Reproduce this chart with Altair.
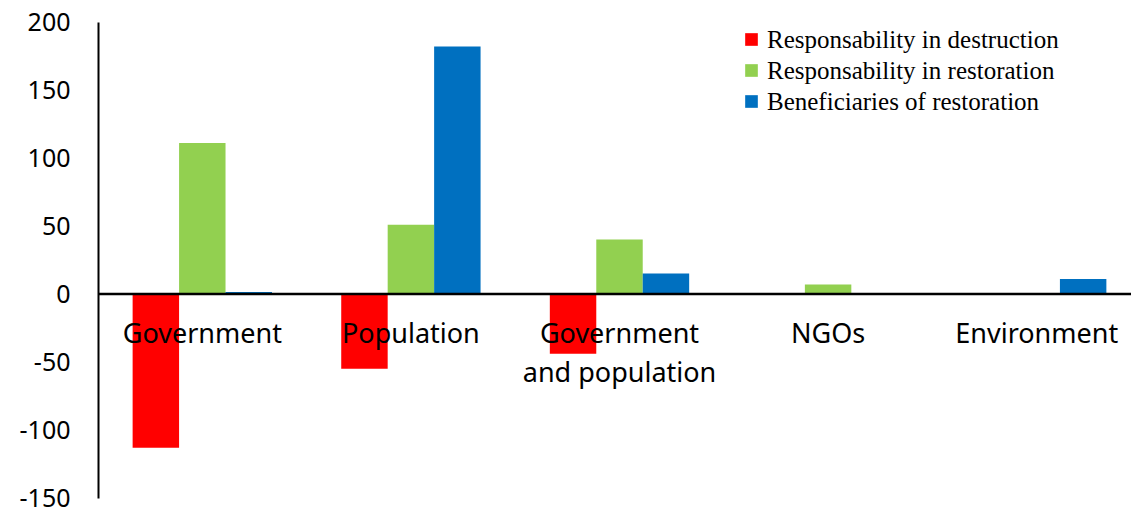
import altair as alt
import pandas as pd

categories = ["Government", "Population", "Government and population", "NGOs", "Environment"]
cat_labels = ["Government", "Population", "Government\nand population", "NGOs", "Environment"]
series = ["Responsability in destruction", "Responsability in restoration", "Beneficiaries of restoration"]
colors = ["#FF0000", "#92D050", "#0070C0"]

destruction = [-113, -55, -44, 0, 0]
restoration = [111, 51, 40, 7, 0]
beneficiaries = [1.5, 182, 15, 0, 11]

y_ticks = [-150, -100, -50, 0, 50, 100, 150, 200]

rows = []
for i, c in enumerate(categories):
    for s, vals in zip(series, [destruction, restoration, beneficiaries]):
        rows.append({"category": c, "series": s, "value": vals[i]})
df = pd.DataFrame(rows)
lab_df = pd.DataFrame({"category": categories, "label": cat_labels})

W = 1033
H = 476
STEP_RANGE = 1043

xscale = alt.Scale(domain=categories, range=[0, STEP_RANGE], paddingInner=0.332, paddingOuter=0.166)
yscale = alt.Scale(domain=[-150, 200], nice=False, zero=False)

bars = alt.Chart(df).mark_bar().encode(
    x=alt.X("category:N", scale=xscale, sort=categories, axis=None),
    xOffset=alt.XOffset("series:N", sort=series, scale=alt.Scale(paddingInner=0, paddingOuter=0)),
    y=alt.Y("value:Q", scale=yscale,
            axis=alt.Axis(values=y_ticks, title=None, grid=False, ticks=False,
                          labelExpr="datum.value + ''",
                          labelFont="Noto Sans", labelFontSize=25, labelColor="black",
                          labelPadding=28, domainColor="black", domainWidth=2)),
    color=alt.Color("series:N", sort=series,
                    scale=alt.Scale(domain=series, range=colors),
                    legend=alt.Legend(title=None, orient="none", legendX=641, legendY=5,
                                      symbolType="square", symbolSize=160,
                                      symbolStrokeWidth=0, symbolOpacity=1,
                                      labelFont="Liberation Serif", labelFontSize=25,
                                      labelColor="black", labelOffset=3, rowPadding=5,
                                      labelLimit=600)),
)

zero = alt.Chart(pd.DataFrame({"y": [0]})).mark_rule(color="black", strokeWidth=2.5).encode(
    y=alt.Y("y:Q", scale=yscale),
    x=alt.value(0),
    x2=alt.value(W),
)

labels = alt.Chart(lab_df).mark_text(
    font="Noto Sans", fontSize=27, color="black", baseline="alphabetic",
    align="center", dy=49, lineBreak="\n", lineHeight=39,
).encode(
    x=alt.X("category:N", scale=xscale, sort=categories, axis=None),
    y=alt.value(H * 200 / 350),
    text="label:N",
)

chart = alt.layer(bars, zero, labels).properties(
    width=W, height=H,
    autosize=alt.AutoSizeParams(type="none"),
    padding={"left": 98, "top": 22, "right": 0, "bottom": 14},
).configure(background="white").configure_view(stroke=None)

chart.save("out.html", embed_options={"renderer": "svg", "actions": False})
